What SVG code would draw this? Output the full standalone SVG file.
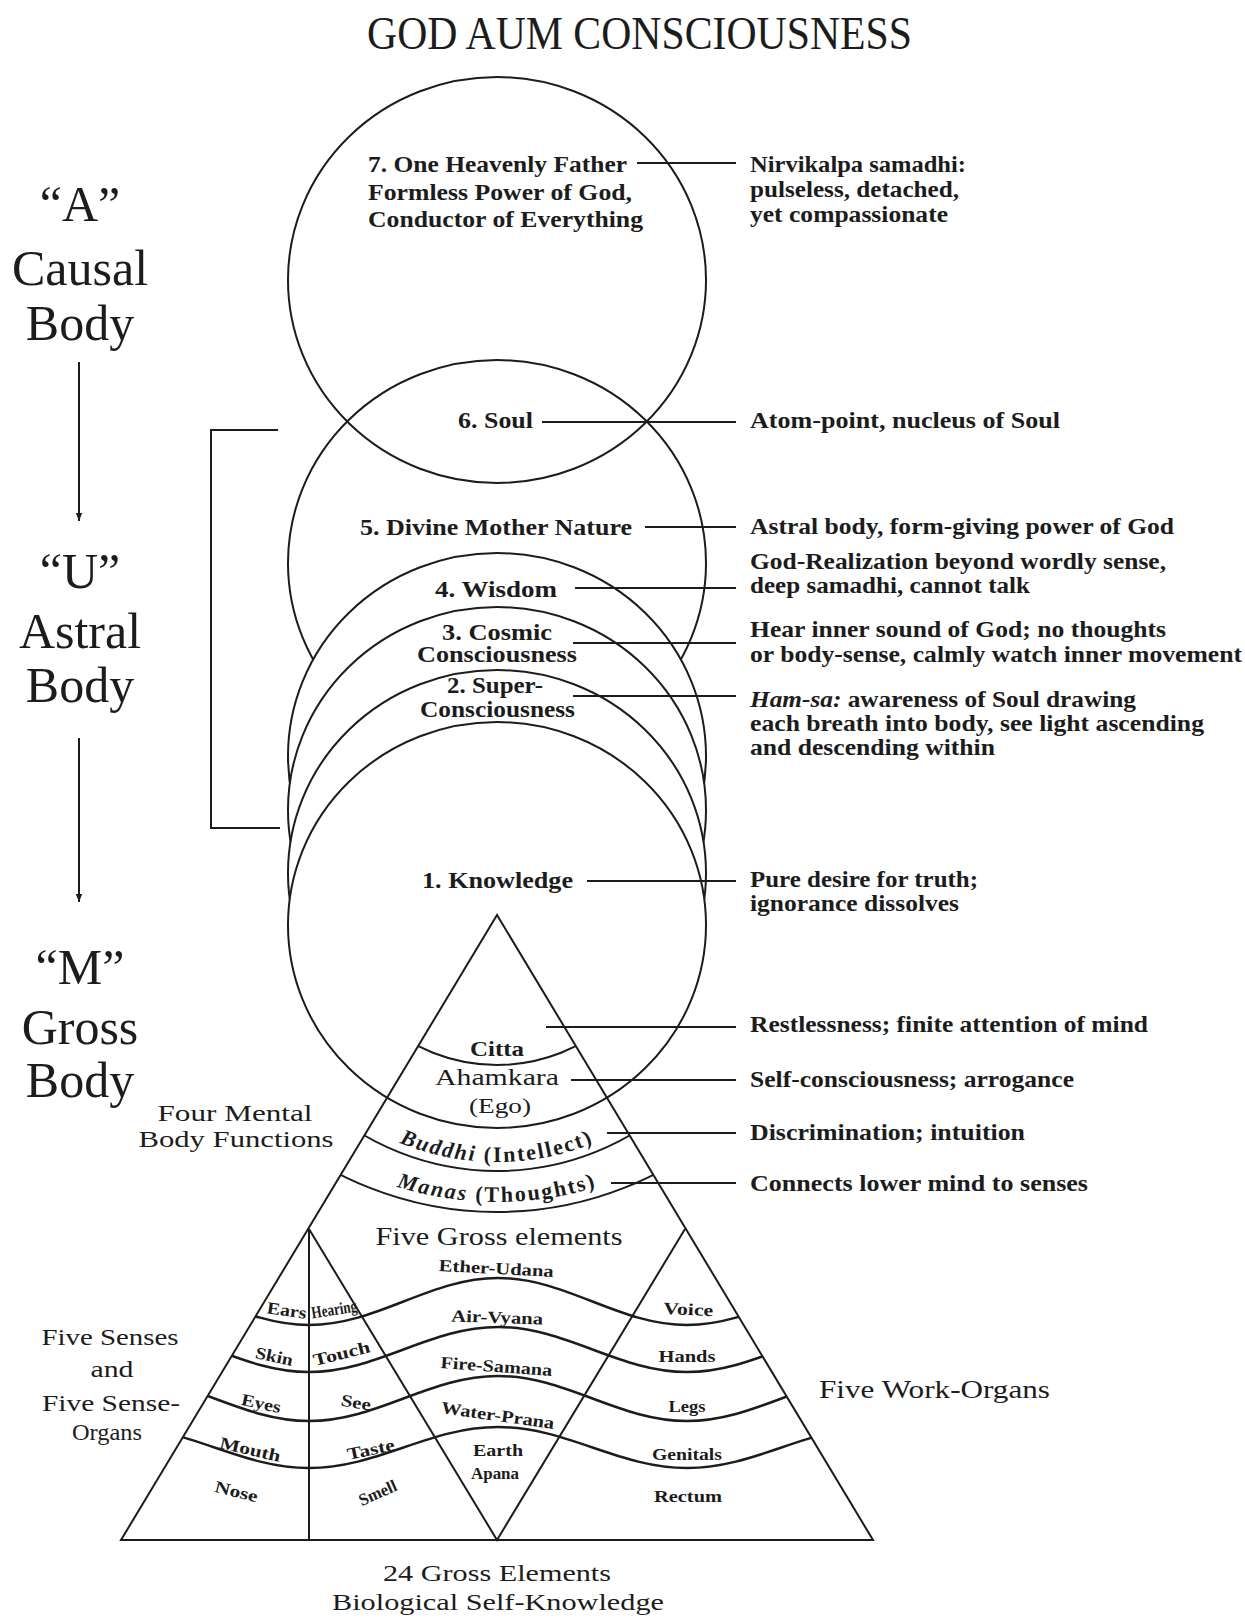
<svg xmlns="http://www.w3.org/2000/svg" width="1245" height="1622" viewBox="0 0 1245 1622">
<style>
.ln{fill:none;stroke:#1c1c1c;stroke-width:2}
.cw{fill:#fff;stroke:#1c1c1c;stroke-width:2}
.wv{fill:none;stroke:#1c1c1c;stroke-width:2.5}
text{font-family:"Liberation Serif","Times New Roman",serif;fill:#1c1c1c}
.big{font-size:50px}
.lb{font-size:23px;font-weight:bold}
.rg{font-size:26px}
.sm{font-size:17px;font-weight:bold}
.mid{text-anchor:middle}
</style>
<defs>
<marker id="arr" viewBox="0 0 10 10" refX="10" refY="5" markerWidth="8" markerHeight="9" markerUnits="userSpaceOnUse" orient="auto"><path d="M0,1 L10,5 L0,9 z" fill="#1c1c1c"/></marker>
<clipPath id="tri"><polygon points="497,915 121,1540 873,1540"/></clipPath>
<path id="pBuddhi" d="M380 1133.7 A256 256 0 0 0 614 1133.7"/>
<path id="pManas" d="M380 1181 A337 337 0 0 0 614 1181"/>
</defs>
<rect width="1245" height="1622" fill="#fff"/>

<g id="title"><text x="639.5" y="49" class="mid" font-size="46" textLength="545" lengthAdjust="spacingAndGlyphs">GOD AUM CONSCIOUSNESS</text></g>

<g id="causal-body"><text x="80" y="221" class="mid big">“A”</text><text x="80" y="285" class="mid big">Causal</text><text x="80" y="340" class="mid big">Body</text></g>
<g id="astral-body"><text x="80" y="588" class="mid big">“U”</text><text x="80" y="648" class="mid big">Astral</text><text x="80" y="702" class="mid big">Body</text></g>
<g id="gross-body"><text x="80" y="984" class="mid big">“M”</text><text x="80" y="1044" class="mid big">Gross</text><text x="80" y="1097" class="mid big">Body</text></g>

<g id="circles">
<ellipse id="c7" cx="497" cy="280" rx="209" ry="203" class="ln"/>
<ellipse id="c6" cx="497" cy="563" rx="209" ry="203" class="ln"/>
<ellipse id="c4" cx="497" cy="756" rx="209" ry="203" class="cw"/>
<ellipse id="c3" cx="497" cy="810" rx="209" ry="203" class="cw"/>
<ellipse id="c2" cx="497" cy="873" rx="209" ry="203" class="cw"/>
<ellipse id="c1" cx="497" cy="925" rx="209" ry="203" class="cw"/>
</g>

<g id="pyramid">
<polygon points="497,915 121,1540 873,1540" class="ln"/>
<g clip-path="url(#tri)">
<circle cx="497" cy="891" r="174" class="ln"/>
<circle cx="497" cy="906" r="265" class="ln"/>
<circle cx="497" cy="865" r="347" class="ln"/>
<path class="wv" d="M120 1278 C188.8 1278 240.2 1325 309 1325 C377.8 1325 429.2 1278 498 1278 C566.8 1278 618.2 1325 687 1325 C755.8 1325 807.2 1278 876 1278"/>
<path class="wv" d="M120 1327 C188.8 1327 240.2 1372 309 1372 C377.8 1372 429.2 1327 498 1327 C566.8 1327 618.2 1372 687 1372 C755.8 1372 807.2 1327 876 1327"/>
<path class="wv" d="M120 1376 C188.8 1376 240.2 1421 309 1421 C377.8 1421 429.2 1376 498 1376 C566.8 1376 618.2 1421 687 1421 C755.8 1421 807.2 1376 876 1376"/>
<path class="wv" d="M120 1427 C188.8 1427 240.2 1468 309 1468 C377.8 1468 429.2 1427 498 1427 C566.8 1427 618.2 1468 687 1468 C755.8 1468 807.2 1427 876 1427"/>
</g>
<polyline points="309,1229 497,1540 685,1229" class="ln"/>
<line x1="309" y1="1229" x2="309" y2="1540" class="ln"/>
</g>

<g id="connectors">
<line x1="79" y1="362" x2="79" y2="521" class="ln" marker-end="url(#arr)"/>
<line x1="79" y1="738" x2="79" y2="902" class="ln" marker-end="url(#arr)"/>
<polyline points="278,430 211,430 211,828 280,828" class="ln" stroke-width="2.5"/>
<line x1="637" y1="163" x2="736" y2="163" class="ln"/>
<line x1="542" y1="422" x2="736" y2="422" class="ln"/>
<line x1="645" y1="527" x2="736" y2="527" class="ln"/>
<line x1="575" y1="588" x2="736" y2="588" class="ln"/>
<line x1="573" y1="643" x2="736" y2="643" class="ln"/>
<line x1="573" y1="696" x2="736" y2="696" class="ln"/>
<line x1="587" y1="881" x2="736" y2="881" class="ln"/>
<line x1="546" y1="1027" x2="736" y2="1027" class="ln"/>
<line x1="571" y1="1080" x2="736" y2="1080" class="ln"/>
<line x1="607" y1="1133" x2="736" y2="1133" class="ln"/>
<line x1="611" y1="1183" x2="736" y2="1183" class="ln"/>
</g>

<g id="n7">
<text x="368" y="172" class="lb" textLength="259" lengthAdjust="spacingAndGlyphs">7. One Heavenly Father</text>
<text x="368" y="200" class="lb" textLength="264" lengthAdjust="spacingAndGlyphs">Formless Power of God,</text>
<text x="368" y="227" class="lb" textLength="275" lengthAdjust="spacingAndGlyphs">Conductor of Everything</text>
<text x="750" y="172" class="lb" textLength="216" lengthAdjust="spacingAndGlyphs">Nirvikalpa samadhi:</text>
<text x="750" y="197" class="lb" textLength="209" lengthAdjust="spacingAndGlyphs">pulseless, detached,</text>
<text x="750" y="222" class="lb" textLength="198" lengthAdjust="spacingAndGlyphs">yet compassionate</text>
</g>
<g id="n6">
<text x="458" y="428" class="lb" textLength="75" lengthAdjust="spacingAndGlyphs">6. Soul</text>
<text x="750" y="428" class="lb" textLength="310" lengthAdjust="spacingAndGlyphs">Atom-point, nucleus of Soul</text>
</g>
<g id="n5">
<text x="360" y="535" class="lb" textLength="272" lengthAdjust="spacingAndGlyphs">5. Divine Mother Nature</text>
<text x="750" y="534" class="lb" textLength="424" lengthAdjust="spacingAndGlyphs">Astral body, form-giving power of God</text>
</g>
<g id="n4">
<text x="435" y="597" class="lb" textLength="122" lengthAdjust="spacingAndGlyphs">4. Wisdom</text>
<text x="750" y="569" class="lb" textLength="416" lengthAdjust="spacingAndGlyphs">God-Realization beyond wordly sense,</text>
<text x="750" y="593" class="lb" textLength="280" lengthAdjust="spacingAndGlyphs">deep samadhi, cannot talk</text>
</g>
<g id="n3">
<text x="442" y="640" class="lb" textLength="110" lengthAdjust="spacingAndGlyphs">3. Cosmic</text>
<text x="417" y="662" class="lb" textLength="160" lengthAdjust="spacingAndGlyphs">Consciousness</text>
<text x="750" y="637" class="lb" textLength="416" lengthAdjust="spacingAndGlyphs">Hear inner sound of God; no thoughts</text>
<text x="750" y="662" class="lb" textLength="492" lengthAdjust="spacingAndGlyphs">or body-sense, calmly watch inner movement</text>
</g>
<g id="n2">
<text x="447" y="693" class="lb" textLength="96" lengthAdjust="spacingAndGlyphs">2. Super-</text>
<text x="420" y="717" class="lb" textLength="155" lengthAdjust="spacingAndGlyphs">Consciousness</text>
<text x="750" y="707" class="lb" textLength="386" lengthAdjust="spacingAndGlyphs"><tspan font-style="italic">Ham-sa:</tspan> awareness of Soul drawing</text>
<text x="750" y="731" class="lb" textLength="454" lengthAdjust="spacingAndGlyphs">each breath into body, see light ascending</text>
<text x="750" y="755" class="lb" textLength="245" lengthAdjust="spacingAndGlyphs">and descending within</text>
</g>
<g id="n1">
<text x="422" y="888" class="lb" textLength="151" lengthAdjust="spacingAndGlyphs">1. Knowledge</text>
<text x="750" y="887" class="lb" textLength="228" lengthAdjust="spacingAndGlyphs">Pure desire for truth;</text>
<text x="750" y="911" class="lb" textLength="209" lengthAdjust="spacingAndGlyphs">ignorance dissolves</text>
</g>

<g id="mental">
<text x="497" y="1056" class="mid" font-size="21" font-weight="bold" textLength="54" lengthAdjust="spacingAndGlyphs">Citta</text>
<text x="497" y="1085" class="mid" font-size="24" textLength="124" lengthAdjust="spacingAndGlyphs">Ahamkara</text>
<text x="500" y="1113" class="mid" font-size="22" textLength="62" lengthAdjust="spacingAndGlyphs">(Ego)</text>
<text font-size="22" font-weight="bold" letter-spacing="2"><textPath href="#pBuddhi" startOffset="50%" text-anchor="middle"><tspan font-style="italic">Buddhi</tspan> (Intellect)</textPath></text>
<text font-size="22" font-weight="bold" letter-spacing="2"><textPath href="#pManas" startOffset="50%" text-anchor="middle"><tspan font-style="italic">Manas</tspan> (Thoughts)</textPath></text>
<text x="750" y="1032" class="lb" textLength="398" lengthAdjust="spacingAndGlyphs">Restlessness; finite attention of mind</text>
<text x="750" y="1087" class="lb" textLength="324" lengthAdjust="spacingAndGlyphs">Self-consciousness; arrogance</text>
<text x="750" y="1140" class="lb" textLength="275" lengthAdjust="spacingAndGlyphs">Discrimination; intuition</text>
<text x="750" y="1191" class="lb" textLength="338" lengthAdjust="spacingAndGlyphs">Connects lower mind to senses</text>
<text x="235" y="1121" class="mid" font-size="24" textLength="155" lengthAdjust="spacingAndGlyphs">Four Mental</text>
<text x="236" y="1147" class="mid" font-size="24" textLength="195" lengthAdjust="spacingAndGlyphs">Body Functions</text>
</g>

<g id="gross">
<text x="499" y="1245" class="mid rg" textLength="247" lengthAdjust="spacingAndGlyphs">Five Gross elements</text>
<text x="496" y="1274" class="mid sm" textLength="115" lengthAdjust="spacingAndGlyphs" transform="rotate(3 496 1274)">Ether-Udana</text>
<text x="497" y="1323" class="mid sm" textLength="92" lengthAdjust="spacingAndGlyphs" transform="rotate(2 497 1323)">Air-Vyana</text>
<text x="496" y="1372" class="mid sm" textLength="112" lengthAdjust="spacingAndGlyphs" transform="rotate(4 496 1372)">Fire-Samana</text>
<text x="497" y="1421" class="mid sm" textLength="114" lengthAdjust="spacingAndGlyphs" transform="rotate(8 497 1421)">Water-Prana</text>
<text x="498" y="1456" class="mid sm" textLength="50" lengthAdjust="spacingAndGlyphs">Earth</text>
<text x="495" y="1479" class="mid sm" textLength="48" lengthAdjust="spacingAndGlyphs">Apana</text>
</g>

<g id="senses">
<text x="286" y="1316" class="mid sm" textLength="40" lengthAdjust="spacingAndGlyphs" transform="rotate(8 286 1316)">Ears</text>
<text x="335" y="1315" class="mid sm" textLength="46" lengthAdjust="spacingAndGlyphs" transform="rotate(-9 335 1315)">Hearing</text>
<text x="273" y="1362" class="mid sm" textLength="38" lengthAdjust="spacingAndGlyphs" transform="rotate(12 273 1362)">Skin</text>
<text x="343" y="1359" class="mid sm" textLength="58" lengthAdjust="spacingAndGlyphs" transform="rotate(-14 343 1359)">Touch</text>
<text x="260" y="1409" class="mid sm" textLength="40" lengthAdjust="spacingAndGlyphs" transform="rotate(12 260 1409)">Eyes</text>
<text x="355" y="1408" class="mid sm" textLength="30" lengthAdjust="spacingAndGlyphs" transform="rotate(10 355 1408)">See</text>
<text x="249" y="1455" class="mid sm" textLength="62" lengthAdjust="spacingAndGlyphs" transform="rotate(13 249 1455)">Mouth</text>
<text x="372" y="1455" class="mid sm" textLength="48" lengthAdjust="spacingAndGlyphs" transform="rotate(-12 372 1455)">Taste</text>
<text x="235" y="1497" class="mid sm" textLength="44" lengthAdjust="spacingAndGlyphs" transform="rotate(14 235 1497)">Nose</text>
<text x="380" y="1498" class="mid sm" textLength="40" lengthAdjust="spacingAndGlyphs" transform="rotate(-24 380 1498)">Smell</text>
<text x="110" y="1345" class="mid" font-size="24" textLength="137" lengthAdjust="spacingAndGlyphs">Five Senses</text>
<text x="112" y="1377" class="mid" font-size="24" textLength="43" lengthAdjust="spacingAndGlyphs">and</text>
<text x="111" y="1411" class="mid" font-size="24" textLength="138" lengthAdjust="spacingAndGlyphs">Five Sense-</text>
<text x="107" y="1440" class="mid" font-size="24" textLength="70" lengthAdjust="spacingAndGlyphs">Organs</text>
</g>

<g id="work-organs">
<text x="688" y="1315" class="mid sm" textLength="50" lengthAdjust="spacingAndGlyphs" transform="rotate(3 688 1315)">Voice</text>
<text x="687" y="1362" class="mid sm" textLength="57" lengthAdjust="spacingAndGlyphs">Hands</text>
<text x="687" y="1412" class="mid sm" textLength="37" lengthAdjust="spacingAndGlyphs">Legs</text>
<text x="687" y="1460" class="mid sm" textLength="70" lengthAdjust="spacingAndGlyphs">Genitals</text>
<text x="688" y="1502" class="mid sm" textLength="68" lengthAdjust="spacingAndGlyphs">Rectum</text>
<text x="819" y="1398" class="rg" textLength="231" lengthAdjust="spacingAndGlyphs">Five Work-Organs</text>
</g>

<g id="footer">
<text x="497" y="1581" class="mid" font-size="24" textLength="228" lengthAdjust="spacingAndGlyphs">24 Gross Elements</text>
<text x="498" y="1610" class="mid" font-size="24" textLength="332" lengthAdjust="spacingAndGlyphs">Biological Self-Knowledge</text>
</g>
</svg>
